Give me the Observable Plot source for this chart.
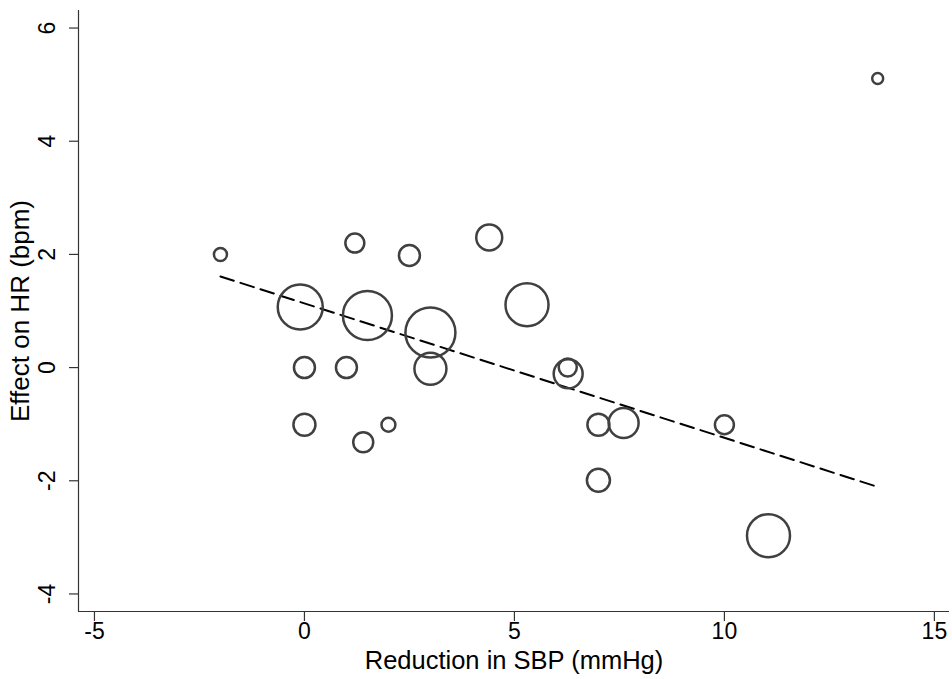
<!DOCTYPE html>
<html><head><meta charset="utf-8">
<script src="https://cdn.jsdelivr.net/npm/d3@7"></script>
<script src="https://cdn.jsdelivr.net/npm/@observablehq/plot@0.6"></script>
<style>body{margin:0;background:#fff}</style>
</head><body><div id="chart"></div>
<script>
// Study-level data: reduction in SBP (mmHg), effect on HR (bpm), study weight (%)
const sbpReduction = [-2.0, 1.2, 2.5, 4.4, -0.1, 1.5, 3.0, 5.3, 0.0, 1.0, 3.0, 6.27, 6.28, 0.0, 1.4, 2.0, 7.0, 7.6, 7.0, 10.0, 11.05, 13.65];
const hrEffect     = [2.0, 2.2, 1.98, 2.3, 1.07, 0.92, 0.62, 1.11, 0.0, 0.0, -0.02, 0.0, -0.11, -1.01, -1.32, -1.01, -1.01, -0.98, -1.99, -1.01, -2.97, 5.11];
const studyWeight  = [6.8, 14.4, 17.6, 27, 81, 96, 100, 74, 17.6, 17.6, 41, 13, 33.6, 19.4, 16, 7.8, 19.4, 36, 21.2, 14.4, 74, 4.8];
// Meta-regression fitted line endpoints
const fitX = [-2.0, 13.7];
const fitY = [1.61, -2.12];
const xTicks = [-5, 0, 5, 10, 15];
const yTicks = [-4, -2, 0, 2, 4, 6];
const xLabel = "Reduction in SBP (mmHg)";
const yLabel = "Effect on HR (bpm)";

const points = sbpReduction.map((x, i) => ({x, y: hrEffect[i], w: studyWeight[i]}));
const fit = fitX.map((x, i) => ({x, y: fitY[i]}));
const fmt = d => String(d);
const xDom = [-5.38, 15.36], yDom = [-4.31, 6.31];
const FONT = "'Liberation Sans', Arial, Helvetica, sans-serif";

const chart = Plot.plot({
  width: 952, height: 679,
  marginLeft: 78, marginRight: 3, marginTop: 10, marginBottom: 68,
  style: {fontFamily: FONT, background: "#fff", color: "#000"},
  x: {domain: xDom},
  y: {domain: yDom},
  r: {type: "sqrt", domain: [0, 100], range: [0, 25]},
  marks: [
    Plot.ruleX([xDom[0]], {stroke: "#333", strokeWidth: 1.2}),
    Plot.ruleY([yDom[0]], {stroke: "#333", strokeWidth: 1.2}),
    Plot.axisX(xTicks, {tickSize: 10, tickFormat: () => "", label: null, stroke: "#333", strokeWidth: 1.2}),
    Plot.text(xTicks, {x: d => d, text: fmt, frameAnchor: "bottom", dy: 27, fontSize: 23}),
    Plot.axisY(yTicks, {tickSize: 9, tickFormat: () => "", label: null, stroke: "#333", strokeWidth: 1.2}),
    Plot.text(yTicks, {y: d => d, text: fmt, frameAnchor: "left", textAnchor: "middle", dx: -31, rotate: -90, fontSize: 23}),
    Plot.line(fit, {x: "x", y: "y", stroke: "#000", strokeWidth: 2, strokeDasharray: "14,7"}),
    Plot.dot(points, {x: "x", y: "y", r: "w", stroke: "#404040", strokeWidth: 2.5, fill: "none"}),
    Plot.text([xLabel], {frameAnchor: "bottom", dy: 57, text: d => d, fontSize: 25.5}),
    Plot.text([yLabel], {frameAnchor: "left", textAnchor: "middle", dx: -58, rotate: -90, text: d => d, fontSize: 26})
  ]
});
document.getElementById("chart").append(chart);
</script>
</body></html>
